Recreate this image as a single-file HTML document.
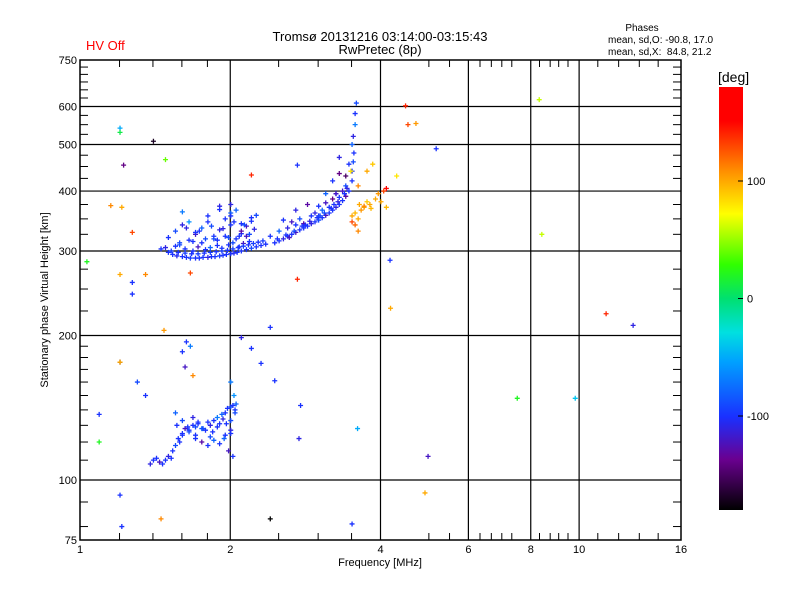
<!DOCTYPE html>
<html><head><meta charset="utf-8"><style>
body{margin:0;background:#fff;}
svg text{font-family:"Liberation Sans","DejaVu Sans",sans-serif;}
</style></head><body>
<svg id="chart" width="800" height="600" xmlns="http://www.w3.org/2000/svg">
<defs>
<linearGradient id="cbg" x1="0" y1="1" x2="0" y2="0">
<stop offset="0" stop-color="#000000"/><stop offset="0.12" stop-color="#6a0090"/><stop offset="0.22" stop-color="#1a30ff"/><stop offset="0.35" stop-color="#00a0ff"/><stop offset="0.42" stop-color="#00e0e0"/><stop offset="0.5" stop-color="#00e070"/><stop offset="0.58" stop-color="#30ff00"/><stop offset="0.7" stop-color="#ffff00"/><stop offset="0.8" stop-color="#ff9000"/><stop offset="0.92" stop-color="#ff0000"/><stop offset="1" stop-color="#ff0000"/>
</linearGradient>
</defs>
<text x="380" y="41" text-anchor="middle" font-size="13">Tromsø 20131216 03:14:00-03:15:43</text>
<text x="380" y="54" text-anchor="middle" font-size="13">RwPretec (8p)</text>
<text x="86" y="50" font-size="13" fill="#ff0000">HV Off</text>
<text x="642" y="31" text-anchor="middle" font-size="10">Phases</text>
<text x="608" y="43" font-size="10">mean, sd,O: -90.8, 17.0</text>
<text x="608" y="55" font-size="10" xml:space="preserve">mean, sd,X:  84.8, 21.2</text>
<g id="grid"></g>
<g id="points"></g>
<rect x="80" y="60" width="601" height="480" fill="none" stroke="#000" stroke-width="1.5"/>
<g id="axes"></g>
<text x="380" y="566" text-anchor="middle" font-size="11">Frequency [MHz]</text>
<text transform="translate(48,300) rotate(-90)" text-anchor="middle" font-size="11">Stationary phase Virtual Height [km]</text>
<rect x="719" y="87" width="24" height="423" fill="url(#cbg)"/>
<text x="718" y="82" font-size="14">[deg]</text>
<g id="cbticks"></g>
</svg>
<script>
const xTicks=[1,2,4,6,8,10,16];
const xMinor=[1.2,1.4,1.6,1.8,2.5,3,3.5,5,5.5,6.33,6.67,7,7.33,8.33,8.75,9.1,9.5,10.9,12,13.2,14.4];
const xGrid=[2,4,6,8,10];
const yTicks=[75,100,200,300,400,500,600,750];
const yGrid=[100,200,300,400,500,600];
const yMinor=[80,90,110,120,130,140,150,160,170,180,190,225,250,275,325,350,375,425,450,475,525,550,575,625,650,675,700,725];
const cbTicks=[100,0,-100];
// [freq MHz, height km, phase deg]
const freqs=[1.5,1.53,1.56,1.6,1.63,1.66,1.7,1.73,1.76,1.8,1.83,1.86,1.9,1.93,1.96,2.0,2.03,2.06,2.1,2.15,2.2,2.25,2.3,2.35,
1.45,1.48,1.55,1.58,1.62,1.68,1.72,1.78,1.82,1.88,1.92,1.98,2.02,2.08,2.12,2.18,
1.5,1.55,1.6,1.65,1.7,1.75,1.8,1.85,1.9,1.95,2.0,2.05,2.1,2.15,2.2,2.25,1.6,1.7,1.8,1.9,2.0,2.05,2.1,2.2,1.75,1.85,1.95,2.0,2.1,1.65,1.9,2.0,2.15,
1.52,1.57,1.62,1.67,1.72,1.77,1.82,1.87,1.92,1.97,2.02,2.07,2.12,2.17,2.22,2.27,2.32,1.58,1.68,1.78,1.88,1.98,2.08,2.18,1.63,1.73,1.83,1.93,2.03,2.13,2.23,
2.45,2.5,2.55,2.6,2.65,2.7,2.75,2.8,2.85,2.9,2.95,3.0,3.05,3.1,3.15,3.2,3.25,3.3,3.35,3.4,3.45,3.5,
2.4,2.5,2.6,2.65,2.7,2.75,2.8,2.9,2.95,3.0,3.05,3.1,3.15,3.2,3.25,3.3,3.35,3.4,2.55,2.7,2.85,3.0,3.1,3.2,3.3,
2.48,2.58,2.68,2.78,2.88,2.98,3.08,3.18,3.28,3.38,2.62,2.82,3.02,3.22,3.42,
3.5,3.52,3.53,3.5,3.52,3.55,3.55,3.57,3.45,3.4,3.3,3.25,
3.5,3.55,3.6,3.65,3.7,3.75,3.8,3.9,3.95,3.5,3.55,3.6,4.0,4.1,4.05,3.6,3.75,3.85,4.3,3.48,3.62,3.7,3.82,
1.38,1.4,1.42,1.44,1.46,1.48,1.5,1.52,1.53,1.55,1.57,1.6,1.62,1.65,1.68,1.7,1.72,1.75,1.78,1.8,1.82,1.85,1.88,1.9,1.93,1.95,1.97,2.0,2.02,2.04,2.05,1.6,1.65,1.7,1.75,1.8,1.85,1.9,1.95,2.0,2.0,1.98,2.02,2.03,2.0,
1.56,1.6,1.64,1.68,1.72,1.76,1.84,1.88,1.92,1.96,2.0,2.04,1.58,1.7,1.82,1.94,
1.03,1.2,1.2,1.22,1.4,1.48,1.15,1.21,1.27,1.2,1.27,1.27,1.35,1.47,1.66,2.4,2.72,2.2,2.72,4.17,4.18,4.1,4.48,4.53,4.7,5.16,8.3,8.4,7.5,9.8,11.3,12.8,4.9,4.97,3.5,2.4,1.45,1.2,1.21,1.09,1.09,1.2,3.59,2.76,2.74,2.45,1.63,1.66,1.2,1.68,1.62,1.6,1.35,1.55,2.1,2.3,2.2,1.3];
const heights=[298,295,293,292,291,290,290,290,291,291,292,292,293,294,295,296,297,298,300,302,304,306,308,310,
303,305,307,309,303,300,306,302,305,308,304,309,312,306,311,314,
320,330,340,316,325,335,345,322,332,350,360,318,326,338,346,356,362,328,355,372,340,365,330,352,312,318,322,375,342,345,366,355,322,
300,298,297,296,296,297,298,299,300,301,303,305,307,309,311,313,315,312,314,318,316,320,322,325,335,330,338,334,345,340,333,
312,315,318,322,325,328,332,335,338,342,345,348,352,356,360,365,370,375,382,390,400,420,
322,330,335,345,340,350,342,355,360,372,365,378,370,385,395,388,400,410,348,365,375,355,395,420,435,
318,324,330,338,346,352,360,368,380,395,320,340,355,375,405,
440,460,480,500,520,550,580,610,455,430,470,395,
355,360,350,365,370,380,375,385,395,345,340,330,380,370,400,410,440,455,430,440,375,372,368,
108,110,111,109,108,110,112,111,115,118,122,125,128,127,130,129,131,128,127,132,130,133,135,131,134,138,141,142,143,140,144,124,126,122,120,118,121,119,124,127,133,115,112,150,160,
130,133,129,135,132,128,126,129,137,131,125,138,120,124,123,122,
285,541,530,453,508,465,373,370,328,268,258,244,268,205,270,208,262,432,453,287,228,405,602,550,553,490,620,325,148,148,222,210,94,112,81,83,83,93,80,137,120,176,128,143,122,161,194,190,176,165,172,185,150,138,198,175,188,160];
const phases=[-100,-100,-105,-100,-100,-95,-100,-100,-100,-110,-100,-100,-95,-100,-100,-100,-105,-100,-100,-100,-90,-100,-100,-100,
-100,-110,-100,-90,-100,-100,-120,-100,-80,-100,-100,-100,-90,-100,-120,-100,
-100,-90,-110,-100,-120,-80,-100,-100,-110,-100,-80,-100,-100,-120,-100,-90,-70,-100,-100,-110,-100,-80,-130,-100,-100,-90,-100,-110,-100,-60,-100,-100,-120,
-95,-100,-95,-100,-95,-100,-95,-100,-95,-100,-95,-100,-95,-100,-95,-100,-95,-90,-100,-90,-100,-90,-100,-90,-110,-100,-90,-110,-100,-90,-110,
-100,-100,-110,-100,-100,-120,-100,-100,-100,-110,-100,-90,-100,-120,-100,-100,-110,-100,-100,-130,-100,-100,
-100,-80,-110,-120,-100,-90,-130,-100,-110,-100,-80,-120,-100,-140,-100,-100,-120,-90,-100,-110,-130,-100,-80,-100,-140,
-100,-100,-90,-100,-110,-100,-90,-100,-110,-100,-120,-100,-90,-100,-110,
-100,-90,-100,-80,-110,-70,-100,-90,-100,-150,-110,-120,
100,95,100,105,100,90,100,100,105,130,120,110,100,95,130,110,100,90,80,80,100,110,95,
-110,-100,-100,-120,-100,-100,-110,-100,-100,-90,-100,-100,-120,-100,-100,-90,-100,-80,-100,-100,-110,-100,-70,-100,-110,-100,-100,-90,-100,-100,-80,-100,-90,-100,-130,-100,-80,-100,-100,-110,-90,-120,-100,-60,-70,
-100,-90,-100,-110,-100,-90,-100,-100,-80,-100,-100,-90,-100,-100,-90,-80,
20,-50,10,-140,-170,40,110,100,130,100,-100,-100,110,105,130,-100,140,140,-100,-100,100,150,140,130,105,-100,60,60,20,-40,140,-110,100,-120,-100,-180,110,-100,-100,-100,20,-160,-50,-100,-110,-100,-100,-70,100,110,-120,-100,-100,-80,-110,-100,-100,-90];

const X0=80,X1=681,Y0=540,Y1=60;
const xs=f=>X0+(X1-X0)*Math.log2(f)/4;
const ys=h=>Y0-(Y0-Y1)*Math.log10(h/75);
const stops=[[0,[0,0,0]],[0.12,[106,0,144]],[0.22,[26,48,255]],[0.35,[0,160,255]],[0.42,[0,224,224]],[0.5,[0,224,112]],[0.58,[48,255,0]],[0.7,[255,255,0]],[0.8,[255,144,0]],[0.92,[255,0,0]],[1,[255,0,0]]];
function col(v){let t=Math.max(0,Math.min(1,(v+180)/360));for(let i=1;i<stops.length;i++){if(t<=stops[i][0]){const a=stops[i-1],b=stops[i],u=(t-a[0])/(b[0]-a[0]);const c=a[1].map((x,k)=>Math.round(x+(b[1][k]-x)*u));return `rgb(${c})`;}}return 'red';}
const NS='http://www.w3.org/2000/svg';
function mk(tag,at,parent){const e=document.createElementNS(NS,tag);for(const k in at)e.setAttribute(k,at[k]);parent.appendChild(e);return e;}
const grid=document.getElementById('grid'),axes=document.getElementById('axes'),pts=document.getElementById('points'),cbt=document.getElementById('cbticks');
xGrid.forEach(f=>{const l=mk('line',{x1:xs(f),x2:xs(f),y1:Y1,y2:Y0,stroke:'#000','stroke-width':1.2},grid);

});
yGrid.forEach(h=>{const l=mk('line',{x1:X0,x2:X1,y1:ys(h),y2:ys(h),stroke:'#000','stroke-width':1.2},grid);

});
xMinor.forEach(f=>{[[Y0,Y0-7],[Y1,Y1+7]].forEach(p=>{const l=mk('line',{x1:xs(f),x2:xs(f),y1:p[0],y2:p[1],stroke:'#000'},axes);

});});
yMinor.forEach(h=>{[[X0,X0+8],[X1,X1-8]].forEach(p=>{const l=mk('line',{x1:p[0],x2:p[1],y1:ys(h),y2:ys(h),stroke:'#000'},axes);

});});
xTicks.forEach(f=>{const t=mk('text',{x:xs(f),y:553,'text-anchor':'middle','font-size':11},axes);t.textContent=f;

});
yTicks.forEach(h=>{const t=mk('text',{x:77,y:ys(h)+4,'text-anchor':'end','font-size':11},axes);t.textContent=h;

});
for(let i=0;i<freqs.length;i++){const x=xs(freqs[i]),y=ys(heights[i]),c=col(phases[i]);
const p=mk('path',{d:`M${x-2} ${y}h5M${x+0.5} ${y-2.5}v5`,stroke:c,'stroke-width':1.3,fill:'none'},pts);

}
const cbY=v=>87+(180-v)/360*423;
cbTicks.forEach(v=>{const l=mk('line',{x1:743,x2:738,y1:cbY(v),y2:cbY(v),stroke:'#000'},cbt);


const t=mk('text',{x:747,y:cbY(v)+4,'font-size':11},cbt);t.textContent=v;

});
</script>
</body></html>
